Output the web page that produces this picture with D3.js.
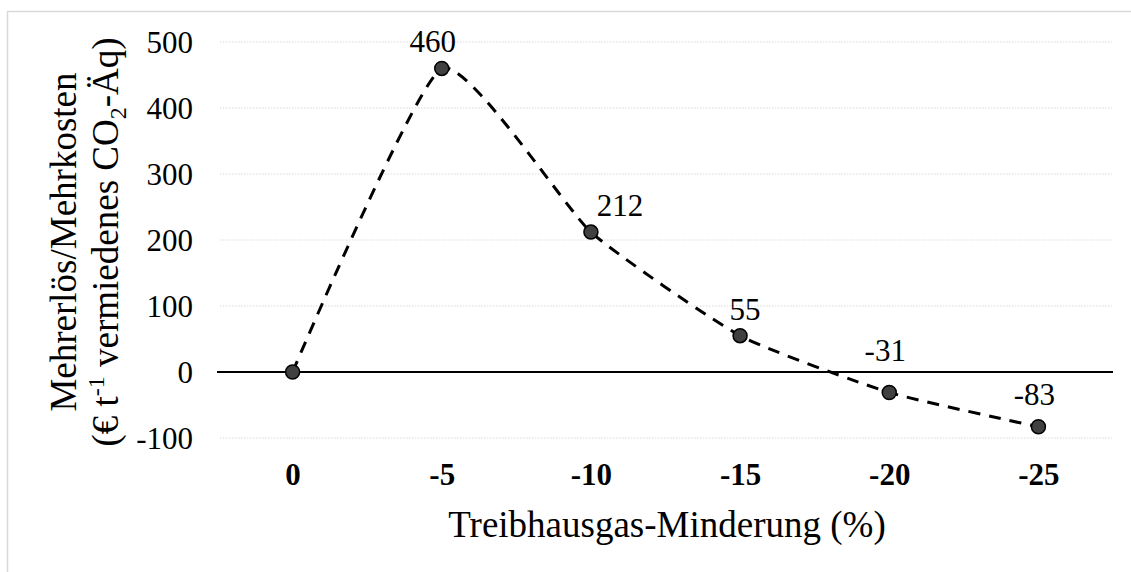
<!DOCTYPE html>
<html>
<head>
<meta charset="utf-8">
<script src="https://cdnjs.cloudflare.com/ajax/libs/d3/7.8.5/d3.min.js"></script>
<style>
  body { margin: 0; background: #fff; }
  text { font-family: "Liberation Serif", "Times New Roman", serif; fill: #000; }
</style>
</head>
<body>
<div id="viz"></div>
<script>
// data
var categories = ["0", "-5", "-10", "-15", "-20", "-25"];
var values = [0, 460, 212, 55, -31, -83];
var showLabel = [false, true, true, true, true, true];
var yTicks = [-100, 0, 100, 200, 300, 400, 500];

// small nudges for the value labels (dx, dy from marker)
var labelNudge = [[0, -16], [-9, -16], [29, -16], [5, -16], [-4, -31], [-4, -22]];

var width = 1131, height = 572;

var svg = d3.select("#viz")
    .append("svg")
    .attr("width", width)
    .attr("height", height);

// chart frame (cut off at right/bottom like the picture)
svg.append("rect")
    .attr("x", 7.5).attr("y", 11.5)
    .attr("width", 1200).attr("height", 700)
    .style("fill", "none")
    .style("stroke", "#d9d9d9")
    .style("stroke-width", 1.5);

var x = d3.scalePoint()
    .domain(categories)
    .range([218, 1113])
    .padding(0.5);

var y = d3.scaleLinear()
    .domain([-100, 500])
    .range([438, 42]);

// gridlines
svg.append("g").selectAll("line")
    .data(yTicks.filter(function(t){ return t != 0; }))
    .enter().append("line")
    .attr("x1", 220).attr("x2", 1112)
    .attr("y1", function(d){ return y(d); })
    .attr("y2", function(d){ return y(d); })
    .style("stroke", "#d9d9d9")
    .style("stroke-width", 1)
    .style("stroke-dasharray", "1.5,1.5");

// y tick labels
var yAxis = d3.axisLeft(y).tickValues(yTicks).tickSize(0).tickPadding(0)
    .tickFormat(function(d){ return String(d); });
var gy = svg.append("g").attr("transform", "translate(193,0)").call(yAxis);
gy.select(".domain").remove();
gy.selectAll("text")
    .style("font-family", "'Liberation Serif', serif")
    .style("font-size", "31px")
    .attr("dy", "0.34em");

// zero line
svg.append("line")
    .attr("x1", 217).attr("x2", 1113)
    .attr("y1", y(0)).attr("y2", y(0))
    .style("stroke", "#000")
    .style("stroke-width", 2);

// x tick labels (bold)
var xAxis = d3.axisBottom(x).tickSize(0).tickPadding(0);
var gx = svg.append("g").attr("transform", "translate(0,463)").call(xAxis);
gx.select(".domain").remove();
gx.selectAll("text")
    .style("font-family", "'Liberation Serif', serif")
    .style("font-size", "31px")
    .style("font-weight", "bold")
    .attr("dy", "0.71em");

var pts = categories.map(function(c, i){ return [x(c), y(values[i]), i]; });

// smoothed dashed line
var line = d3.line().curve(d3.curveCardinal.tension(0.5));
svg.append("path")
    .attr("d", line(pts))
    .style("fill", "none")
    .style("stroke", "#000")
    .style("stroke-width", 3)
    .style("stroke-dasharray", "12,9");

// markers
svg.append("g").selectAll("circle")
    .data(pts)
    .enter().append("circle")
    .attr("cx", function(d){ return d[0]; })
    .attr("cy", function(d){ return d[1]; })
    .attr("r", 7)
    .style("fill", "#404040")
    .style("stroke", "#000")
    .style("stroke-width", 1.5);

// value labels
svg.append("g").selectAll("text")
    .data(pts.filter(function(d){ return showLabel[d[2]]; }))
    .enter().append("text")
    .attr("x", function(d){ return d[0] + labelNudge[d[2]][0]; })
    .attr("y", function(d){ return d[1] + labelNudge[d[2]][1]; })
    .attr("text-anchor", "middle")
    .style("font-size", "31px")
    .text(function(d){ return values[d[2]]; });

// axis titles
svg.append("text")
    .attr("x", 667).attr("y", 537)
    .attr("text-anchor", "middle")
    .style("font-size", "37px")
    .text("Treibhausgas-Minderung (%)");

var yt = svg.append("g").attr("transform", "translate(0,242) rotate(-90)");
yt.append("text")
    .attr("x", 0).attr("y", 76)
    .attr("text-anchor", "middle")
    .style("font-size", "37px")
    .text("Mehrerlös/Mehrkosten");

var t2 = yt.append("text")
    .attr("x", 0).attr("y", 118)
    .attr("text-anchor", "middle")
    .style("font-size", "37px");
t2.append("tspan").text("(€ t");
t2.append("tspan").attr("dy", -14).style("font-size", "24px").text("-1");
t2.append("tspan").attr("dy", 14).text(" vermiedenes CO");
t2.append("tspan").attr("dy", 8).style("font-size", "24px").text("2");
t2.append("tspan").attr("dy", -8).text("-Äq)");
</script>
</body>
</html>
